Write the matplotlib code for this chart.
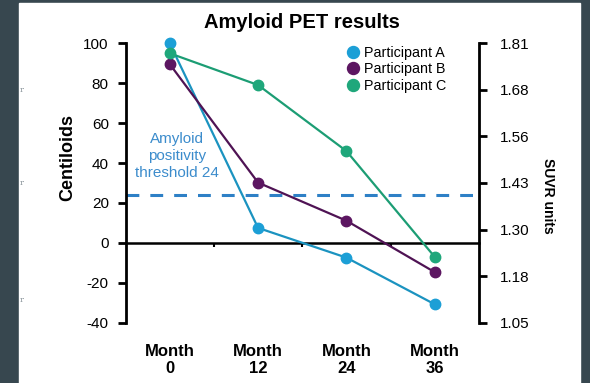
import numpy as np
import matplotlib.pyplot as plt
import matplotlib.patches as mpatches

plt.rcParams['font.family'] = ['Liberation Sans', 'DejaVu Sans']
plt.rcParams['axes.unicode_minus'] = False

# data
months = ['Month\n0', 'Month\n12', 'Month\n24', 'Month\n36']
participant_a = [100, 7.5, -7.4, -30.8]
participant_b = [89.6, 30.2, 11.1, -14.7]
participant_c = [95.0, 79.1, 46.0, -7.1]
names = ['Participant A', 'Participant B', 'Participant C']
threshold = 24
centiloid_ticks = [100, 80, 60, 40, 20, 0, -20, -40]
suvr_ticks = ['1.81', '1.68', '1.56', '1.43', '1.30', '1.18', '1.05']

colors = ['#1c9fd6', '#5c1661', '#1fa77b']
line_colors = ['#1b93c0', '#4f1354', '#1c9d74']

fig = plt.figure(figsize=(5.9, 3.83), dpi=100, facecolor='#37474f')
# white slide panel
fig.patches.append(mpatches.Rectangle((19 / 590, 0), (580 - 19) / 590, 380 / 383,
                                      transform=fig.transFigure, color='white', zorder=-10))

ax = fig.add_axes([125.5 / 590, (383 - 322.7) / 383, (479 - 125.5) / 590, (322.7 - 43.3) / 383])
ax.set_facecolor('none')

x = list(range(len(months)))
series = [participant_a, participant_b, participant_c]
for vals, c, lc, n in zip(series, colors, line_colors, names):
    ax.plot(x, vals, '-', color=lc, linewidth=1.6, zorder=3, clip_on=False)
    ax.plot(x, vals, 'o', color=c, markersize=7.5, zorder=4, label=n, clip_on=False)

ax.axhline(threshold, color='#2e80c6', linewidth=2.2, dashes=(4.2, 3.6), zorder=2)
ax.text(0.08, 43.5, 'Amyloid\npositivity\nthreshold ' + str(threshold), color='#3c8ccc',
        fontsize=11, ha='center', va='center', linespacing=1.25)

ax.set_xlim(-0.5, 3.5)
ax.set_ylim(-40, 100)
ax.set_yticks(centiloid_ticks)
ax.tick_params(axis='y', direction='out', length=6, width=2, labelsize=11, pad=6)

for s in ['top', 'right']:
    ax.spines[s].set_visible(False)
ax.spines['left'].set_linewidth(2)
ax.spines['bottom'].set_position(('data', 0))
ax.spines['bottom'].set_linewidth(1.8)
ax.set_xticks([0.5, 1.5, 2.5])
ax.set_xticklabels([])
ax.tick_params(axis='x', direction='out', length=3, width=1.5)

for i, m in enumerate(months):
    ax.text(i, -0.075, m, transform=ax.get_xaxis_transform(), ha='center', va='top',
            fontsize=12, fontweight='bold', linespacing=1.2)

ax.set_ylabel('Centiloids', fontsize=13, fontweight='bold')
ax.yaxis.set_label_coords(-0.138, (322.7 - 157) / (322.7 - 43.3))

ax2 = ax.twinx()
ax2.set_ylim(-40, 100)
ax2.set_yticks(np.linspace(100, -40, len(suvr_ticks)))
ax2.set_yticklabels(suvr_ticks)
for s in ['top', 'left', 'bottom']:
    ax2.spines[s].set_visible(False)
ax2.spines['right'].set_linewidth(2)
ax2.tick_params(axis='y', direction='out', length=6, width=2, labelsize=11, pad=9)
ax2.set_ylabel('SUVR units', fontsize=10, fontweight='bold', rotation=-90, va='center')
ax2.yaxis.set_label_coords((548 - 125.5) / (479 - 125.5), (322.7 - 196) / (322.7 - 43.3))

ax.legend(loc='upper left', bbox_to_anchor=(0.595, 1.02), frameon=False, fontsize=10.3,
          handletextpad=0.2, handlelength=1.2, labelspacing=0.15, markerscale=1.15,
          borderaxespad=0.2)

fig.text(302 / 590, 1 - 23 / 383, 'Amyloid PET results', ha='center', va='center',
         fontsize=14.5, fontweight='bold')

# cut-off slide text at the left edge
for yy in [90, 183, 300]:
    fig.text(20 / 590, 1 - yy / 383, 'r', fontsize=6, color='#8a949a', ha='left', va='center',
             family='DejaVu Serif')

plt.savefig('out.png', dpi=100, facecolor=fig.get_facecolor())
